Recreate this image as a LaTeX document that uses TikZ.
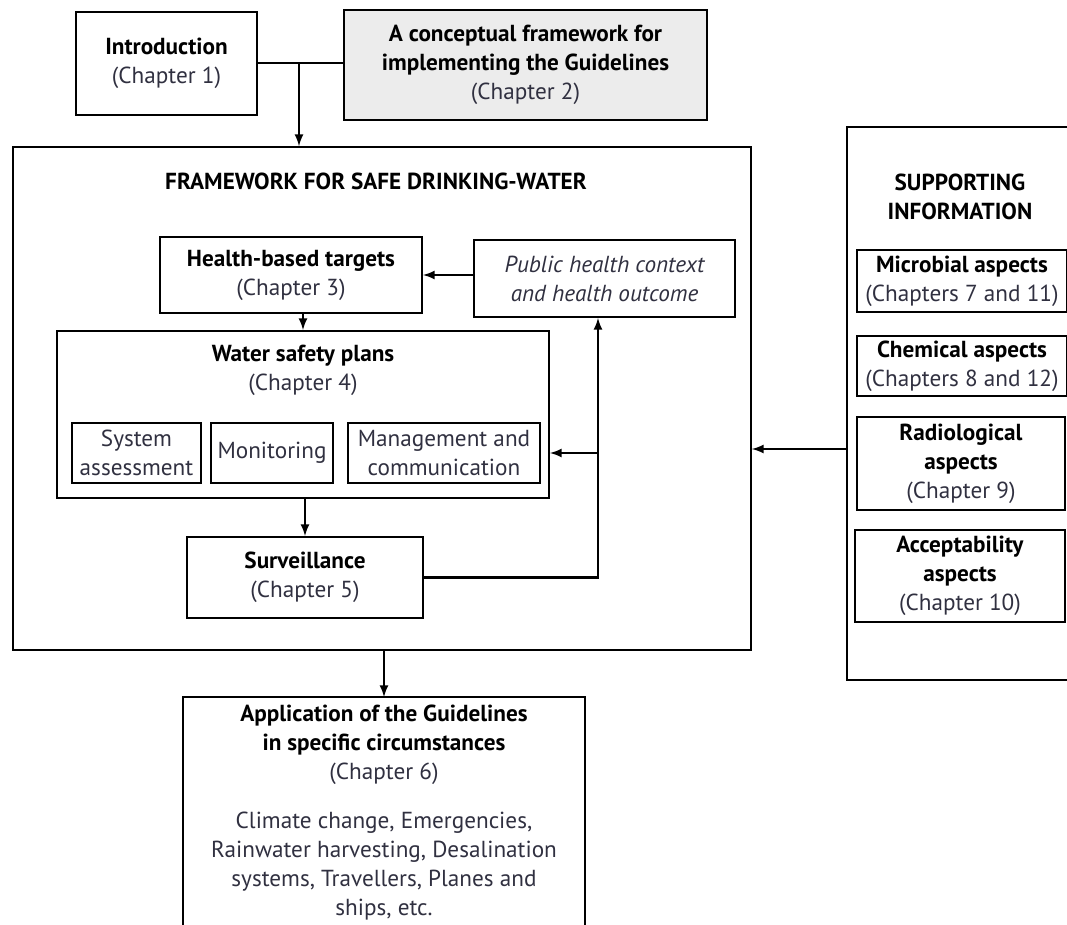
\documentclass[tikz,border=0pt]{standalone}
\usepackage{fontspec}
\setmainfont{PT Sans}
\usetikzlibrary{positioning}
\definecolor{chapgray}{RGB}{48,48,64}
\definecolor{boxfill}{RGB}{236,236,236}
\tikzset{
  box/.style={draw, line width=1pt, rectangle, align=center, inner sep=1pt,
    font=\fontsize{11.6}{14.5}\selectfont},
  link/.style={line width=1pt},
  arr/.style={line width=1pt, -latex},
}
\newcommand{\chap}[1]{{\color{chapgray}#1}}
\begin{document}
\begin{tikzpicture}[x=0.5pt,y=-0.5pt]
		\useasboundingbox (0,0) rectangle (1067,925);
		\clip (0,0) rectangle (1067,925);
		
		%Top boxes
		\node (intro) at (166.5,63.5) [box, minimum width=90.5pt, minimum height=51.5pt]
		{\textbf{Introduction}\\\chap{(Chapter 1)}};
		\node (concept) at (525.5,65) [box, fill=boxfill, minimum width=181.5pt, minimum height=55pt]
		{\textbf{A conceptual framework for}\\\textbf{implementing the Guidelines}\\\chap{(Chapter 2)}};
		
		%Framework
		\node (frame) at (382,398.5) [box, line width=0.9pt, minimum width=369pt, minimum height=251.5pt]{};
		\node (frametitle) at (376,181) [font=\fontsize{11.6}{14.5}\selectfont\bfseries]
		{FRAMEWORK FOR SAFE DRINKING-WATER};
		\node (health) at (291,275) [box, minimum width=131pt, minimum height=38pt]
		{\textbf{Health-based targets}\\\chap{(Chapter 3)}};
		\node (public) at (604.5,278.5) [box, minimum width=130.5pt, minimum height=38.5pt]
		{\chap{\itshape Public health context}\\\chap{\itshape and health outcome}};
		
		%Water safety plans
		\node (wsp) at (303,414.5) [box, minimum width=246pt, minimum height=83.5pt]{};
		\node (wsptitle) at (303,370) [font=\fontsize{11.6}{14.5}\selectfont, align=center]
		{\textbf{Water safety plans}\\\chap{(Chapter 4)}};
		\node (sys) at (136.5,453) [box, minimum width=64.5pt, minimum height=30pt, inner sep=0.5pt]
		{\chap{System}\\\chap{assessment}};
		\node (mon) at (272,453) [box, minimum width=61pt, minimum height=30pt]
		{\chap{Monitoring}};
		\node (mgmt) at (444,453) [box, minimum width=96pt, minimum height=30pt, inner sep=0.5pt]
		{\chap{Management and}\\\chap{communication}};
		
		\node (surv) at (305,577.5) [box, minimum width=118pt, minimum height=40.5pt]
		{\textbf{Surveillance}\\\chap{(Chapter 5)}};
		
		%Application (open at the bottom)
		\node (app) at (384,697) [anchor=north, align=center, minimum width=201pt, inner ysep=4pt,
		font=\fontsize{11.6}{14.5}\selectfont]
		{\textbf{Application of the Guidelines}\\\textbf{in specific circumstances}\\\chap{(Chapter 6)}\\[10pt]
		\chap{Climate change, Emergencies,}\\\chap{Rainwater harvesting, Desalination}\\
		\chap{systems, Travellers, Planes and}\\\chap{ships, etc.}};
		\draw[link] ([yshift=-60pt]app.south west) -- (app.north west) -- (app.north east)
		-- ([yshift=-60pt]app.south east);
		
		%Supporting information
		\node (sup) at (963.5,403.5) [box, line width=0.9pt, minimum width=116.5pt, minimum height=276.5pt]{};
		\node (suptitle) at (960,197) [font=\fontsize{11.6}{14.5}\selectfont\bfseries, align=center]
		{SUPPORTING\\INFORMATION};
		\node (micro) at (962,281) [box, minimum width=105pt, minimum height=31pt, inner sep=0.5pt]
		{\textbf{Microbial aspects}\\\chap{(Chapters 7 and 11)}};
		\node (chem) at (962,366) [box, minimum width=105pt, minimum height=30pt, inner sep=0.5pt]
		{\textbf{Chemical aspects}\\\chap{(Chapters 8 and 12)}};
		\node (radio) at (961,463.5) [box, minimum width=104pt, minimum height=46.5pt]
		{\textbf{Radiological}\\\textbf{aspects}\\\chap{(Chapter 9)}};
		\node (accept) at (960,576) [box, minimum width=105pt, minimum height=46pt]
		{\textbf{Acceptability}\\\textbf{aspects}\\\chap{(Chapter 10)}};
		
		%Links
		\coordinate (join) at (299,63);
		\draw[link] (intro.east |- join) -- (concept.west |- join);
		\draw[arr] (join) -- (join |- frame.north);
		\draw[arr] (public.west |- health.east) -- (health.east);
		\draw[arr] (health.south -| wsp.north) -- (wsp.north);
		\draw[arr] (wsp.south -| surv.north) -- (surv.north);
		\coordinate (loop) at (598,577.5);
		\draw[arr] (surv.east) -- (loop) -- (loop |- public.south);
		\draw[arr] (loop |- mgmt.east) -- (mgmt.east -| wsp.east);
		\coordinate (supin) at (847,449);
		\draw[arr] (supin) -- (supin -| frame.east);
		\draw[arr] (frame.south -| app.north) -- (app.north);
		
\end{tikzpicture}
\end{document}
